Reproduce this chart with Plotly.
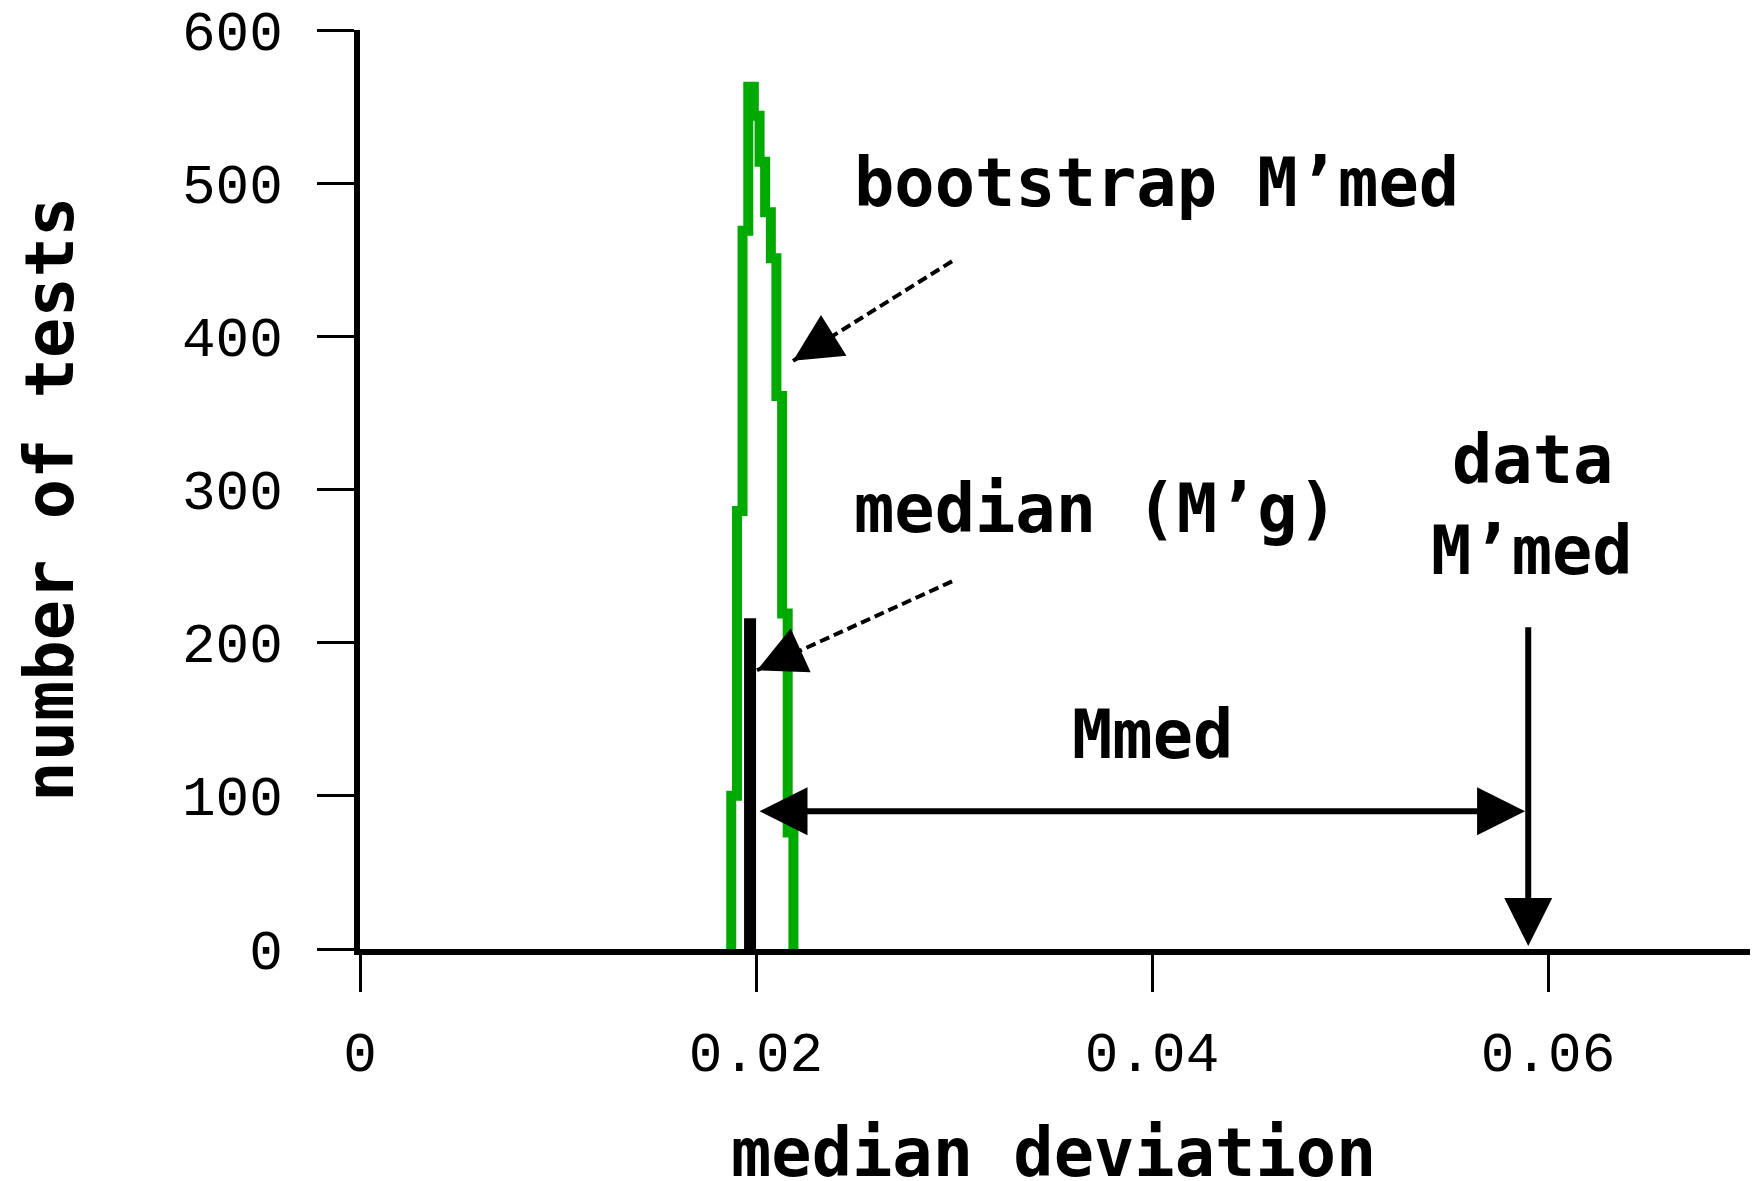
import plotly.graph_objects as go

# ---- data ----
bin_edges = [0.01875, 0.01904, 0.01932, 0.01961, 0.01989, 0.02018,
             0.02046, 0.02075, 0.02103, 0.02132, 0.02160, 0.02189]
bin_counts = [100, 286, 469, 563, 544, 514, 481, 451, 361, 219, 76]

median_mg = 0.0197          # median of bootstrap M'med (M'g)
median_mg_height = 216
data_mmed = 0.0590          # data M'med
data_mmed_top = 211
mmed_arrow_y = 90

x_tickvals = [0, 0.02, 0.04, 0.06]
x_ticktext = ["0", "0.02", "0.04", "0.06"]
y_tickvals = [0, 100, 200, 300, 400, 500, 600]
x_range = [0, 0.0702]
y_range = [0, 600]

# annotation anchor points (data coords)
boot_label = (0.02485, 500)
boot_arrow_start = (0.0299, 449)
boot_arrow_tip = (0.02187, 384)
med_label = (0.02485, 287)
med_arrow_start = (0.0299, 240)
med_arrow_tip = (0.02005, 182)
data_label_x = 0.0592
data_label_y1 = 319
data_label_y2 = 260
mmed_label = (0.0400, 140)
mmed_left = 0.0201
mmed_right = 0.05884

GREEN = "#00aa00"
LABEL_FONT = dict(family="DejaVu Sans Mono", size=67, color="black", weight="bold")
TICK_FONT = dict(family="Liberation Mono", size=56, color="black")

fig = go.Figure()

# histogram outline
hx = [bin_edges[0]] + bin_edges
hy = [0] + bin_counts + [0]
fig.add_trace(go.Scatter(x=hx, y=hy, mode="lines", line=dict(color=GREEN, width=10, shape="hv"),
                         hoverinfo="skip", showlegend=False))

# median (M'g) bar
fig.add_trace(go.Scatter(x=[median_mg, median_mg], y=[0, median_mg_height], mode="lines",
                         line=dict(color="black", width=12), hoverinfo="skip", showlegend=False))

shapes = []
annotations = []

def dashed_arrow(start, tip, frac=0.2):
    shapes.append(dict(type="line", xref="x", yref="y", x0=start[0], y0=start[1],
                       x1=tip[0], y1=tip[1], line=dict(color="black", width=4, dash="10px,5px")))
    ax = tip[0] + frac * (start[0] - tip[0])
    ay = tip[1] + frac * (start[1] - tip[1])
    annotations.append(dict(x=tip[0], y=tip[1], ax=ax, ay=ay, xref="x", yref="y",
                            axref="x", ayref="y", text="", showarrow=True, arrowhead=2,
                            arrowsize=1.6, arrowwidth=6, arrowcolor="black", standoff=0))

dashed_arrow(boot_arrow_start, boot_arrow_tip)
dashed_arrow(med_arrow_start, med_arrow_tip)

# Mmed double arrow
annotations.append(dict(x=mmed_right, y=mmed_arrow_y, ax=mmed_left, ay=mmed_arrow_y,
                        xref="x", yref="y", axref="x", ayref="y", text="", showarrow=True,
                        arrowhead=2, startarrowhead=2, arrowside="end+start",
                        arrowsize=1.6, startarrowsize=1.6, arrowwidth=6, arrowcolor="black",
                        standoff=0, startstandoff=0))
# data M'med vertical arrow
annotations.append(dict(x=data_mmed, y=2, ax=data_mmed, ay=data_mmed_top,
                        xref="x", yref="y", axref="x", ayref="y", text="", showarrow=True,
                        arrowhead=2, arrowsize=1.6, arrowwidth=6, arrowcolor="black", standoff=0))

# text labels
annotations += [
    dict(x=boot_label[0], y=boot_label[1], xref="x", yref="y", text="bootstrap M’med",
         showarrow=False, xanchor="left", yanchor="middle", font=LABEL_FONT),
    dict(x=med_label[0], y=med_label[1], xref="x", yref="y", text="median (M’g)",
         showarrow=False, xanchor="left", yanchor="middle", font=LABEL_FONT),
    dict(x=data_label_x, y=data_label_y1, xref="x", yref="y", text="data",
         showarrow=False, xanchor="center", yanchor="middle", font=LABEL_FONT),
    dict(x=data_label_x, y=data_label_y2, xref="x", yref="y", text="M’med",
         showarrow=False, xanchor="center", yanchor="middle", font=LABEL_FONT),
    dict(x=mmed_label[0], y=mmed_label[1], xref="x", yref="y", text="Mmed",
         showarrow=False, xanchor="center", yanchor="middle", font=LABEL_FONT),
    # axis titles
    dict(x=0.4986, y=-0.222, xref="paper", yref="paper", text="median deviation",
         showarrow=False, xanchor="center", yanchor="middle", font=LABEL_FONT),
    dict(x=-0.223, y=0.489, xref="paper", yref="paper", text="number of tests",
         showarrow=False, xanchor="center", yanchor="middle", textangle=-90, font=LABEL_FONT),
]

fig.update_layout(
    width=1753, height=1181,
    margin=dict(l=360, r=3, t=22, b=232),
    paper_bgcolor="white", plot_bgcolor="white",
    shapes=shapes, annotations=annotations,
    showlegend=False,
)
fig.update_xaxes(range=x_range, showgrid=False, zeroline=False, showline=True, linewidth=6,
                 linecolor="black", ticks="outside", ticklen=37, tickwidth=3, tickcolor="black",
                 tickvals=x_tickvals, ticktext=x_ticktext, tickfont=TICK_FONT,
                 ticklabelstandoff=12, ticklabeloverflow="allow")
fig.update_yaxes(range=y_range, showgrid=False, zeroline=False, showline=True, linewidth=6,
                 linecolor="black", ticks="outside", ticklen=37, tickwidth=3, tickcolor="black",
                 tickvals=y_tickvals, tickfont=TICK_FONT, ticklabelstandoff=23,
                 ticklabeloverflow="allow")

fig.write_html("out.html", config={"displayModeBar": False},
               post_script="document.body.style.margin='0';document.body.style.overflow='hidden';")
